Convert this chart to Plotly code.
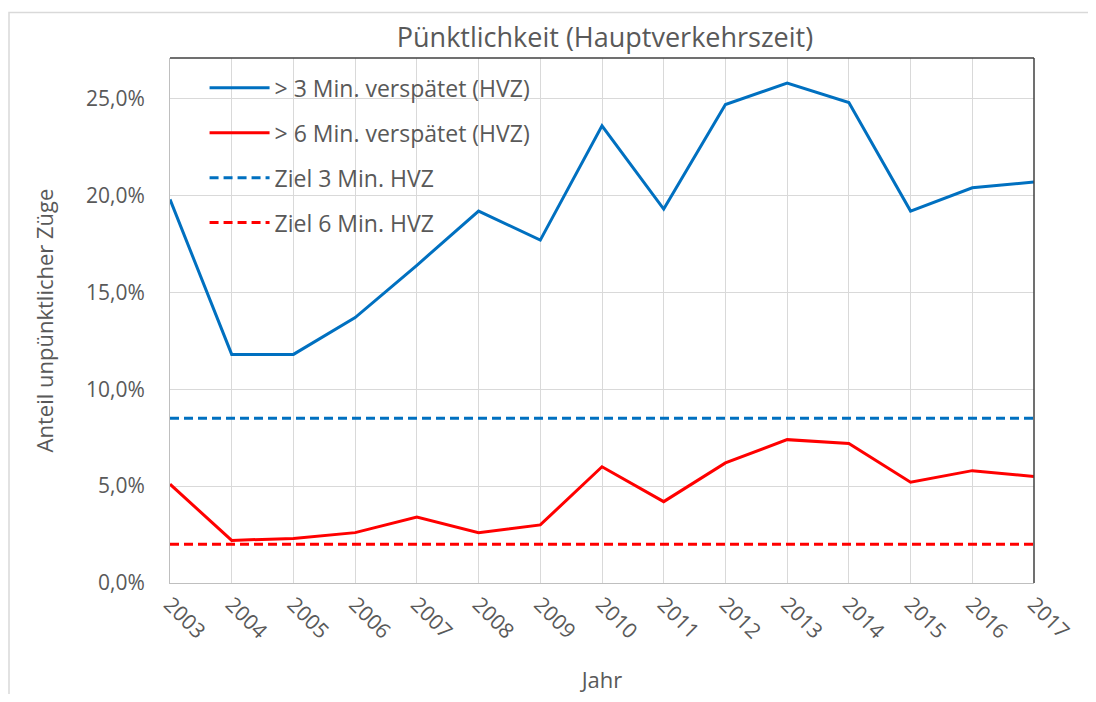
import plotly.graph_objects as go

years = list(range(2003, 2018))
late3 = [19.8, 11.8, 11.8, 13.7, 16.4, 19.2, 17.7, 23.6, 19.3, 24.7, 25.8, 24.8, 19.2, 20.4, 20.7]
late6 = [5.1, 2.2, 2.3, 2.6, 3.4, 2.6, 3.0, 6.0, 4.2, 6.2, 7.4, 7.2, 5.2, 5.8, 5.5]
target3 = [8.5] * len(years)
target6 = [2.0] * len(years)

names = ["> 3 Min. verspätet (HVZ)", "> 6 Min. verspätet (HVZ)", "Ziel 3 Min. HVZ", "Ziel 6 Min. HVZ"]
series = [late3, late6, target3, target6]
colors = ["#0070C0", "#FF0000", "#0070C0", "#FF0000"]
dashes = ["solid", "solid", "9px,5px", "9px,5px"]

FONT = "Open Sans"
GREY = "#595959"

W, H = 1080, 686
L, R, T, B = 162, 54, 50, 111
PW, PH = W - L - R, H - T - B

fig = go.Figure()
for i, (n, s, c, d) in enumerate(zip(names, series, colors, dashes)):
    fig.add_trace(go.Scatter(
        x=years, y=[v / 100 for v in s], mode="lines", name=n,
        legendgroup=f"g{i}",
        line=dict(color=c, width=3, dash=d),
    ))

fig.update_layout(
    width=W, height=H,
    margin=dict(l=L, r=R, t=T, b=B),
    paper_bgcolor="white", plot_bgcolor="white",
    separators=",.",
    font=dict(family=FONT, size=21, color=GREY),
    title=dict(text="Pünktlichkeit (Hauptverkehrszeit)", x=(L + PW / 2 + 3) / W, xanchor="center",
               y=1 - 30 / H, yanchor="middle",
               font=dict(family=FONT, size=27, color=GREY)),
    showlegend=True,
    legend=dict(x=0.04, y=0.984, xanchor="left", yanchor="top",
                bgcolor="rgba(0,0,0,0)", font=dict(family=FONT, size=23, color=GREY),
                tracegroupgap=12, itemwidth=60),
    xaxis=dict(range=[2003, 2017], tickvals=years, ticktext=[str(y) for y in years],
               tickangle=45, showgrid=True, gridcolor="#D9D9D9", gridwidth=1,
               showline=True, linecolor="#BFBFBF", linewidth=1, ticks="",
               zeroline=False, automargin=False,
               title=dict(text="Jahr", font=dict(family=FONT, size=22, color=GREY), standoff=30),
               tickfont=dict(family=FONT, size=21, color=GREY)),
    yaxis=dict(range=[0, 0.271], tickvals=[0, 0.05, 0.10, 0.15, 0.20, 0.25],
               tickformat=".1%", showgrid=True, gridcolor="#D9D9D9", gridwidth=1,
               showline=True, linecolor="#BFBFBF", linewidth=1, ticks="", zeroline=False,
               ticklabelstandoff=20, automargin=False,
               title=dict(text="Anteil unpünktlicher Züge", font=dict(family=FONT, size=22, color=GREY), standoff=26),
               tickfont=dict(family=FONT, size=21, color=GREY)),
)

# plot frame top/right (dark) and outer chart border
fig.add_shape(type="line", xref="paper", yref="paper", x0=0, x1=1, y0=1, y1=1,
              line=dict(color="#404040", width=1.5))
fig.add_shape(type="line", xref="paper", yref="paper", x0=1, x1=1, y0=0, y1=1,
              line=dict(color="#404040", width=1.5))
fig.add_shape(type="rect", xref="paper", yref="paper",
              x0=-(L - 1) / PW, x1=1 + (R + 30) / PW, y0=-(B + 30) / PH, y1=1 + (T - 4.5) / PH,
              line=dict(color="#D9D9D9", width=1.5))

fig.write_html("out.html")
